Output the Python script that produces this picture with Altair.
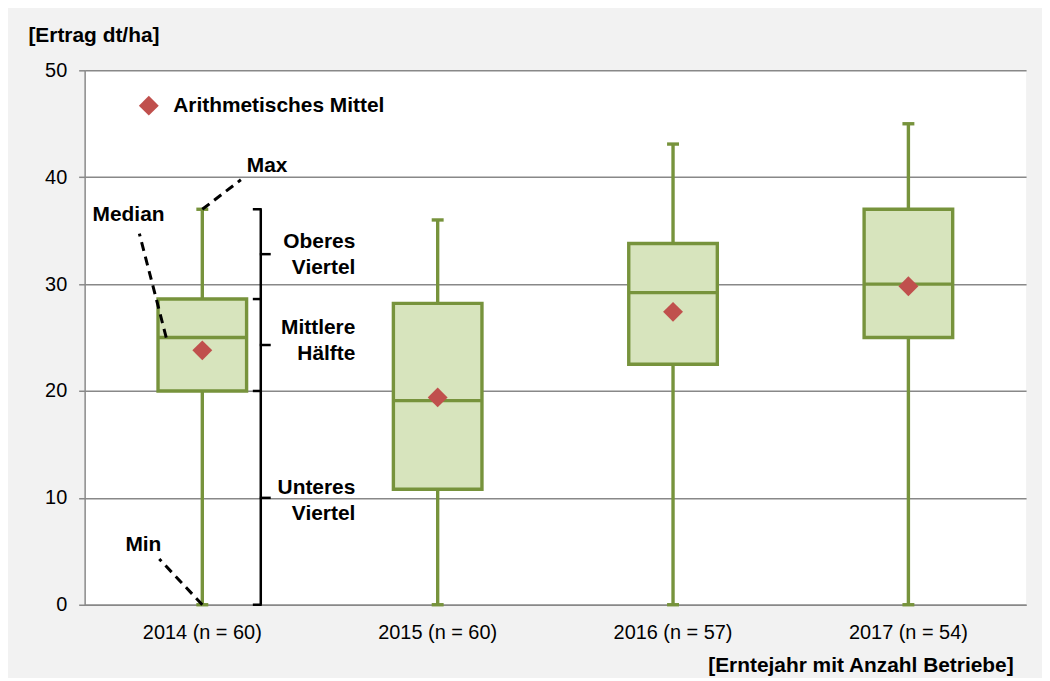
import altair as alt
import pandas as pd

# ---- data ----
categories = ["2014 (n = 60)", "2015 (n = 60)", "2016 (n = 57)", "2017 (n = 54)"]
minimum = [0.0, 0.0, 0.0, 0.0]
q1 = [20.0, 10.8, 22.5, 25.0]
median = [25.0, 19.1, 29.2, 30.0]
q3 = [28.6, 28.2, 33.8, 37.0]
maximum = [37.0, 36.0, 43.1, 45.0]
mean = [23.8, 19.4, 27.4, 29.8]
y_ticks = [0, 10, 20, 30, 40, 50]
legend_label = "Arithmetisches Mittel"
bracket_labels = ["Oberes\nViertel", "Mittlere\nHälfte", "Unteres\nViertel"]

GREEN = "#77933c"
FILL = "#d7e4bd"
RED = "#c0504d"
GRID = "#888888"
FONT = "Liberation Sans"

df = pd.DataFrame({
    "cat": categories, "min": minimum, "q1": q1, "median": median,
    "q3": q3, "max": maximum, "mean": mean, "legend": legend_label,
})
first = df.iloc[[0]]

ends = pd.DataFrame({"v": [maximum[0], q3[0], q1[0], minimum[0]]})
mids = pd.DataFrame({
    "v": [(maximum[0] + q3[0]) / 2, (q3[0] + q1[0]) / 2, (q1[0] + minimum[0]) / 2],
    "label": bracket_labels,
})

yscale = alt.Scale(domain=[0, 50], nice=False, zero=True)
yaxis = alt.Axis(
    values=y_ticks, title="[Ertrag dt/ha]", titleAngle=0, titleX=-57, titleY=-29,
    titleAlign="left", titleBaseline="alphabetic", titleFont=FONT, titleFontSize=21,
    titleFontWeight="bold", titleColor="black", labelFont=FONT, labelFontSize=20,
    labelColor="black", labelPadding=12, tickSize=6, tickColor=GRID, tickWidth=1.5,
    domainColor=GRID, domainWidth=1.5, gridColor=GRID, gridWidth=1.5,
)
xaxis = alt.Axis(
    title="[Erntejahr mit Anzahl Betriebe]", titleX=933, titleY=67, titleAlign="right",
    titleBaseline="alphabetic", titleFont=FONT, titleFontSize=21, titleFontWeight="bold",
    titleColor="black", labelFont=FONT, labelFontSize=20, labelColor="black",
    labelAngle=0, labelPadding=18, ticks=False, domainColor=GRID, domainWidth=1.5,
    grid=False,
)


def X():
    return alt.X("cat:N", sort=categories, axis=xaxis,
                 scale=alt.Scale(paddingInner=0, paddingOuter=0))


def Y(field):
    return alt.Y(field, type="quantitative", scale=yscale, axis=yaxis)


def Y2(field):
    return alt.Y2(field)


base = alt.Chart(df)

SW = 3.4
wlow = base.mark_rule(color=GREEN, strokeWidth=SW, opacity=1).encode(x=X(), y=Y("min"), y2=Y2("q1"))
whigh = base.mark_rule(color=GREEN, strokeWidth=SW, opacity=1).encode(x=X(), y=Y("q3"), y2=Y2("max"))
box = base.mark_bar(fill=FILL, stroke=GREEN, strokeWidth=SW, size=89, opacity=1).encode(
    x=X(), y=Y("q1"), y2=Y2("q3"))
med = base.mark_tick(color=GREEN, size=89, thickness=SW, opacity=1).encode(x=X(), y=Y("median"))
capmax = base.mark_tick(color=GREEN, size=12, thickness=SW, opacity=1).encode(x=X(), y=Y("max"))
capmin = base.mark_tick(color=GREEN, size=12, thickness=SW, opacity=1).encode(x=X(), y=Y("min"))
means = base.mark_point(shape="diamond", filled=True, size=400, opacity=1).encode(
    x=X(), y=Y("mean"),
    color=alt.Color("legend:N", title=None, scale=alt.Scale(range=[RED]),
                    legend=alt.Legend(orient="none", legendX=54, legendY=25,
                                      labelFont=FONT, labelFontSize=21,
                                      labelFontWeight="bold", labelColor="black",
                                      labelLimit=0, symbolType="diamond",
                                      symbolSize=400, symbolStrokeWidth=0,
                                      symbolOpacity=1, labelOffset=14)),
)

dash = dict(color="black", strokeWidth=3, strokeDash=[9, 6])
fa = alt.Chart(first)
lead_max = fa.mark_rule(**dash).encode(x=X(), y=Y("max"), x2=alt.value(157), y2=alt.value(110))
lead_med = fa.mark_rule(**dash).encode(x=alt.value(82), y=Y("median"), x2=alt.value(55), y2=alt.value(164))
lead_min = fa.mark_rule(**dash).encode(x=X(), y=Y("min"), x2=alt.value(75), y2=alt.value(491))

tstyle = dict(font=FONT, fontSize=21, fontWeight="bold", color="black", align="left",
              baseline="alphabetic")
t_max = fa.mark_text(**tstyle).encode(x=alt.value(163), y=alt.value(102), text=alt.value("Max"))
t_med = fa.mark_text(**tstyle).encode(x=alt.value(8), y=alt.value(151), text=alt.value("Median"))
t_min = fa.mark_text(**tstyle).encode(x=alt.value(41), y=alt.value(483), text=alt.value("Min"))

bstyle = dict(color="black", strokeWidth=2.5)
b_vert = fa.mark_rule(**bstyle).encode(x=alt.value(177), y=Y("max"), y2=Y2("min"))
b_ends = alt.Chart(ends).mark_rule(**bstyle).encode(
    x=alt.value(169), x2=alt.value(178), y=Y("v"))
b_mids = alt.Chart(mids).mark_rule(**bstyle).encode(
    x=alt.value(176), x2=alt.value(187), y=Y("v"))

blabels = []
for i, dy in enumerate([-6, -11, -4]):
    blabels.append(
        alt.Chart(mids.iloc[[i]]).mark_text(
            font=FONT, fontSize=21, fontWeight="bold", color="black", align="right",
            baseline="alphabetic", lineBreak="\n", lineHeight=26, dy=dy,
        ).encode(x=alt.value(272), y=Y("v"), text="label:N")
    )

chart = alt.layer(
    wlow, whigh, box, med, capmax, capmin,
    lead_max, lead_med, lead_min, t_max, t_med, t_min,
    b_vert, b_ends, b_mids, *blabels, means,
).properties(
    width=946, height=537, background="#f2f2f2",
    padding={"left": 77, "top": 61, "right": 16, "bottom": 72},
    autosize=alt.AutoSizeParams(type="none"),
).configure_view(fill="white", strokeWidth=0)

chart.save("out.html", embed_options={"renderer": "svg", "actions": False})
